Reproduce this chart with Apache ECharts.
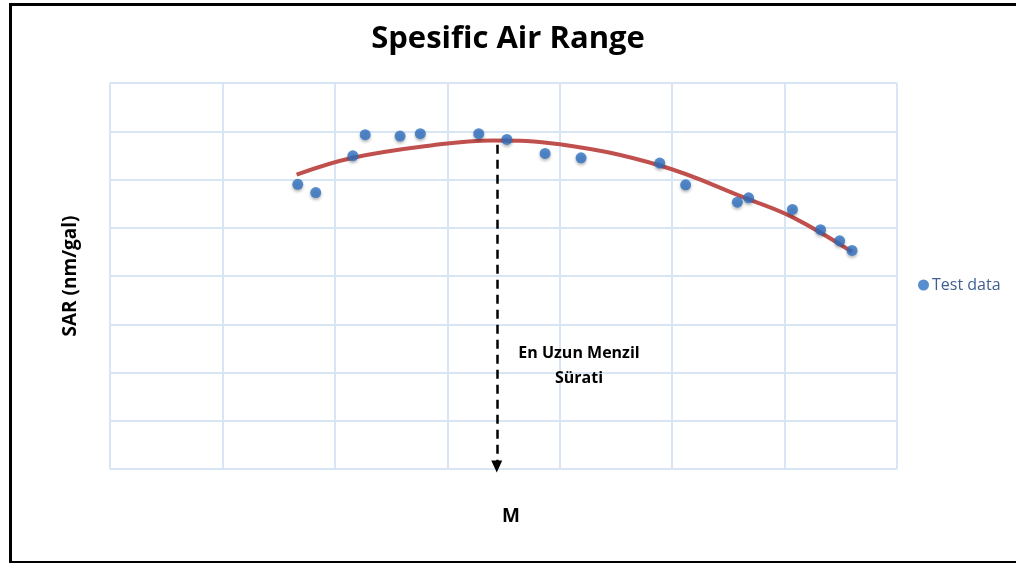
<!DOCTYPE html>
<html>
<head>
<meta charset="utf-8">
<title>Spesific Air Range</title>
<script src="https://cdn.jsdelivr.net/npm/echarts@6/dist/echarts.min.js"></script>
<style>
  html, body { margin: 0; padding: 0; background: #fff; }
  #chart { width: 1016px; height: 563px; }
</style>
</head>
<body>
<div id="chart"></div>
<script>
const testX = [1.67, 1.83, 2.16, 2.27, 2.58, 2.76, 3.28, 3.53, 3.87, 4.19, 4.89, 5.12, 5.58, 5.68, 6.07, 6.32, 6.49, 6.60];
const testY = [5.90, 5.73, 6.49, 6.93, 6.90, 6.95, 6.95, 6.83, 6.54, 6.45, 6.34, 5.89, 5.53, 5.62, 5.38, 4.96, 4.73, 4.53];

// trend curve, sampled from the drawn line
const trendX = [1.66, 2.16, 2.87, 3.40, 4.00, 4.89, 5.67, 6.07, 6.60];
const trendY = [6.10, 6.45, 6.71, 6.81, 6.73, 6.29, 5.60, 5.22, 4.50];

// max-range speed arrow
const arrowX = 3.44;
const arrowTop = 6.72;
const arrowBottom = 0.05;

const BLUE = "#2f70c0", RED = "#c0504d", GRID = "#d8e5f5";

const chart = echarts.init(document.getElementById("chart"));

chart.setOption({
  animation: false,
  textStyle: { fontFamily: "Open Sans, sans-serif" },
  title: {
    text: "Spesific Air Range",
    left: "center", top: 19,
    textStyle: { fontFamily: "Open Sans, sans-serif", fontSize: 31, fontWeight: 700, color: "#000" },
  },
  grid: { left: 110, right: 119, top: 83, bottom: 94 },
  legend: {
    data: ["Test data"], left: 913, top: 272, icon: "circle", itemWidth: 11, itemHeight: 11, itemGap: 4,
    textStyle: { fontSize: 16, color: "#3f5f8f", padding: [0, 0, 0, -2] },
  },
  xAxis: {
    type: "value", min: 0, max: 7, interval: 1,
    axisLine: { show: false }, axisTick: { show: false }, axisLabel: { show: false },
    splitLine: { lineStyle: { color: GRID, width: 2 } },
    name: "M", nameLocation: "middle", nameGap: 38,
    nameTextStyle: { fontSize: 19, fontWeight: 700, color: "#000", padding: [0, 0, 0, 15] },
  },
  yAxis: {
    type: "value", min: 0, max: 8, interval: 1,
    axisLine: { show: false }, axisTick: { show: false }, axisLabel: { show: false },
    splitLine: { lineStyle: { color: GRID, width: 2 } },
    name: "SAR (nm/gal)", nameLocation: "middle", nameGap: 30,
    nameTextStyle: { fontSize: 19, fontWeight: 700, color: "#000" },
  },
  series: [
    {
      name: "trend", type: "line", smooth: 0.4, symbol: "none", z: 3,
      data: trendX.map((x, i) => [x, trendY[i]]),
      lineStyle: { color: RED, width: 4 },
      markLine: {
        silent: true, symbol: ["none", "triangle"], symbolSize: [11, 12],
        lineStyle: { color: "#000", type: [9, 6], width: 2.5 },
        label: { show: false },
        data: [[{ coord: [arrowX, arrowTop] }, { coord: [arrowX, arrowBottom] }]],
      },
    },
    {
      name: "Test data", type: "scatter", symbolSize: 11, z: 4,
      data: testX.map((x, i) => [x, testY[i]]),
      itemStyle: { color: BLUE, shadowBlur: 3, shadowOffsetY: 2, shadowColor: "rgba(0,0,0,0.35)" },
    },
  ],
  graphic: [
    { type: "rect", left: 8, top: 2, z: -1, silent: true,
      shape: { width: 1030, height: 558 },
      style: { fill: "none", stroke: "#000", lineWidth: 3 } },
    { type: "text", x: 579, y: 341, z: 10, silent: true,
      style: { text: "En Uzun Menzil\nSürati", align: "center", verticalAlign: "top", fontSize: 16, fontWeight: 700,
        fontFamily: "Open Sans, sans-serif", lineHeight: 25, fill: "#000" } },
  ],
});
</script>
</body>
</html>
